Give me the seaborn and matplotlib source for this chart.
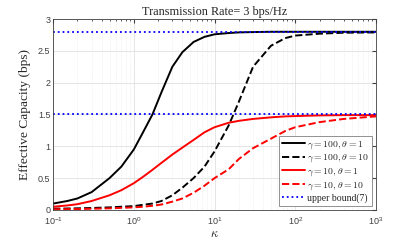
import matplotlib
matplotlib.use('Agg')
import matplotlib.pyplot as plt
import seaborn as sns
import pandas as pd

# values
kappa = [0.1, 0.15, 0.2, 0.3, 0.5, 0.7, 1, 1.3, 1.7, 2.2, 3, 4, 5.5, 7.5,
         10, 15, 20, 30, 50, 75, 100, 200, 400, 1000]
g100_t1 = [0.10, 0.14, 0.18, 0.28, 0.50, 0.68, 0.95, 1.22, 1.50, 1.85, 2.25, 2.48,
           2.64, 2.72, 2.76, 2.78, 2.79, 2.795, 2.80, 2.80, 2.80, 2.80, 2.80, 2.80]
g100_t10 = [0.02, 0.022, 0.025, 0.03, 0.04, 0.05, 0.06, 0.08, 0.10, 0.14, 0.23, 0.35,
            0.50, 0.68, 0.92, 1.33, 1.70, 2.25, 2.58, 2.70, 2.74, 2.77, 2.785, 2.79]
g10_t1 = [0.05, 0.07, 0.09, 0.14, 0.23, 0.31, 0.42, 0.52, 0.63, 0.74, 0.87, 0.98,
          1.10, 1.22, 1.30, 1.37, 1.40, 1.43, 1.455, 1.47, 1.475, 1.485, 1.49, 1.49]
g10_t10 = [0.01, 0.012, 0.014, 0.018, 0.025, 0.032, 0.04, 0.05, 0.065, 0.085, 0.13, 0.18,
           0.27, 0.38, 0.50, 0.64, 0.80, 0.97, 1.12, 1.24, 1.30, 1.38, 1.43, 1.47]
upper_bounds = [2.8, 1.5]

labels = [r'$\gamma = 100, \theta = 1$', r'$\gamma = 100, \theta = 10$',
          r'$\gamma = 10, \theta = 1$', r'$\gamma = 10, \theta = 10$']
series = [g100_t1, g100_t10, g10_t1, g10_t10]
colors = ['black', 'black', 'red', 'red']
dashes = ['-', '--', '-', '--']

sns.set_style('white')
plt.rcParams['mathtext.fontset'] = 'cm'

fig = plt.figure(figsize=(4.15, 2.41), dpi=100)
ax = fig.add_axes([0.128, 0.129, 0.778, 0.792])

for vals, lab, c, ls in zip(series, labels, colors, dashes):
    df = pd.DataFrame({'kappa': kappa, 'ec': vals})
    sns.lineplot(data=df, x='kappa', y='ec', color=c, linestyle=ls, lw=1.4, label=lab, ax=ax)

for i, ub in enumerate(upper_bounds):
    df = pd.DataFrame({'kappa': [kappa[0], kappa[-1]], 'ec': [ub, ub]})
    sns.lineplot(data=df, x='kappa', y='ec', color='blue', linestyle=':', lw=1.3,
                 label='upper bound(7)' if i == 0 else None, ax=ax)

ax.set_xscale('log')
ax.set_xlim(0.1, 1000)
ax.set_ylim(0, 3)
ax.set_yticks([0, 0.5, 1, 1.5, 2, 2.5, 3])
ax.set_yticklabels(['0', '0.5', '1', '1.5', '2', '2.5', '3'])
ax.grid(True, which='major', color='#e0e0e0', lw=0.6)
ax.grid(True, which='minor', color='#e6e6e6', lw=0.5, linestyle=':')
ax.tick_params(axis='both', which='major', labelsize=6.5, colors='#404040', length=3,
               direction='in', top=True, right=True, pad=2)
ax.tick_params(axis='x', which='major', pad=4)
ax.tick_params(axis='x', which='minor', length=1.5, direction='in', top=True, colors='#404040')
for t in ax.get_xticklabels() + ax.get_yticklabels():
    t.set_family('Liberation Sans')
for s in ax.spines.values():
    s.set_color('#404040')
    s.set_linewidth(0.6)

ax.set_title('Transmission Rate= 3 bps/Hz', fontsize=8.8, family='Liberation Serif', pad=3)
ax.set_xlabel(r'$\kappa$', fontsize=9, labelpad=0)
ax.set_ylabel('Effective Capacity (bps)', fontsize=9.6, family='Liberation Serif',
              labelpad=5, color='#262626')

leg = ax.legend(loc='lower right', fontsize=7, frameon=True, fancybox=False,
                edgecolor='#808080', framealpha=1, borderpad=0.3, labelspacing=0.2,
                handlelength=2.4, handletextpad=0.2, borderaxespad=0.4)
leg.get_frame().set_linewidth(0.6)
for t in leg.get_texts():
    t.set_family('Liberation Serif')

fig.savefig('out.png', dpi=100)
